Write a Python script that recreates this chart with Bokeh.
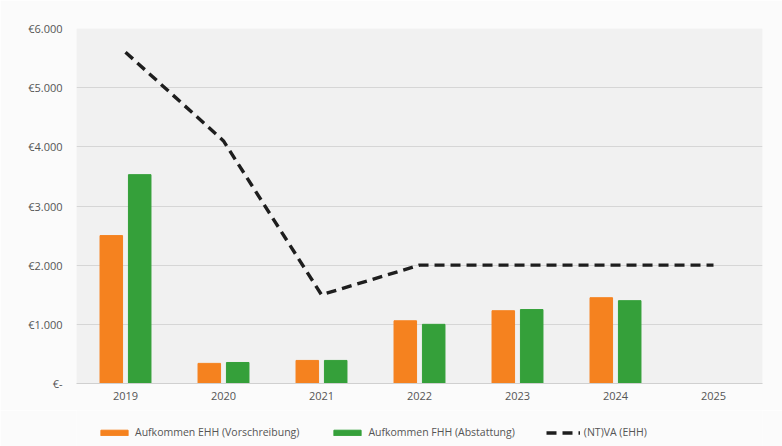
from bokeh.plotting import figure
from bokeh.layouts import column
from bokeh.models import FactorRange, Range1d, FixedTicker, Legend, LegendItem, ColumnDataSource
from bokeh.transform import dodge
from bokeh.embed import file_html
from bokeh.resources import INLINE

years = ["2019", "2020", "2021", "2022", "2023", "2024", "2025"]
bar_years = ["2019", "2020", "2021", "2022", "2023", "2024"]
ehh_vorschreibung = [2500, 340, 390, 1060, 1230, 1450]
fhh_abstattung = [3530, 355, 390, 1000, 1250, 1400]
ntva_ehh = [5600, 4100, 1500, 2000, 2000, 2000, 2000]
y_ticks = [0, 1000, 2000, 3000, 4000, 5000, 6000]
y_tick_labels = ["€-", "€1.000", "€2.000", "€3.000", "€4.000", "€5.000", "€6.000"]
series_names = ["Aufkommen EHH (Vorschreibung)", "Aufkommen FHH (Abstattung)", "(NT)VA (EHH)"]

FONT = "Open Sans"
ORANGE = "#f5821f"
GREEN = "#35a03a"
DARK = "#1e1e1e"
BORDER_BG = "#fbfbfb"

bars = ColumnDataSource(dict(year=bar_years, ehh=ehh_vorschreibung, fhh=fhh_abstattung))
line = ColumnDataSource(dict(year=years, v=ntva_ehh))

p = figure(frame_width=686, frame_height=355, x_range=FactorRange(*years), y_range=Range1d(0, 6000),
           output_backend="svg", toolbar_location=None)
p.min_border_left = 76
p.min_border_right = 20
p.min_border_top = 28
p.min_border_bottom = 27
p.background_fill_color = "#f1f1f1"
p.border_fill_color = BORDER_BG
p.outline_line_color = None

p.vbar(x=dodge("year", -0.145, range=p.x_range), top="ehh", width=0.23, source=bars,
       fill_color=ORANGE, line_color=ORANGE)
p.vbar(x=dodge("year", 0.145, range=p.x_range), top="fhh", width=0.23, source=bars,
       fill_color=GREEN, line_color=GREEN)
p.line(x="year", y="v", source=line, line_color=DARK, line_width=3.4, line_dash="10 6")

p.x_range.range_padding = 0.0
p.xgrid.grid_line_color = None
p.ygrid.grid_line_color = "#d6d6d6"
p.ygrid.grid_line_width = 1

p.yaxis.ticker = FixedTicker(ticks=y_ticks)
p.yaxis.major_label_overrides = {t: l for t, l in zip(y_ticks, y_tick_labels)}
p.yaxis.axis_line_color = None
p.yaxis.major_tick_line_color = None
p.yaxis.minor_tick_line_color = None
p.yaxis.major_tick_out = 0
p.yaxis.major_label_text_font = FONT
p.yaxis.major_label_text_font_size = "11px"
p.yaxis.major_label_text_color = "#555555"
p.yaxis.major_label_standoff = 14

p.xaxis.axis_line_color = "#d0d0d0"
p.xaxis.major_tick_line_color = None
p.xaxis.minor_tick_line_color = None
p.xaxis.major_tick_out = 0
p.xaxis.major_label_text_font = FONT
p.xaxis.major_label_text_font_size = "11px"
p.xaxis.major_label_text_color = "#555555"
p.xaxis.major_label_standoff = 8

# legend strip below the chart (legend-only renderers sit outside the visible range)
lg = figure(width=782, height=36, output_backend="svg", toolbar_location=None,
            x_range=Range1d(0, 1), y_range=Range1d(0, 1),
            x_axis_location=None, y_axis_location=None)
lg.min_border = 0
lg.grid.grid_line_color = None
lg.outline_line_color = None
lg.background_fill_color = BORDER_BG
lg.border_fill_color = BORDER_BG
offscreen = ColumnDataSource(dict(x=[-10, -9], top=[-10, -9]))
d1 = lg.vbar(x="x", top="top", width=0.1, source=offscreen, fill_color=ORANGE, line_color=ORANGE)
d2 = lg.vbar(x="x", top="top", width=0.1, source=offscreen, fill_color=GREEN, line_color=GREEN)
d3 = lg.line(x="x", y="top", source=offscreen, line_color=DARK, line_width=3.4, line_dash="10 6")

legend = Legend(items=[
    LegendItem(label=series_names[0], renderers=[d1]),
    LegendItem(label=series_names[1], renderers=[d2]),
    LegendItem(label=series_names[2], renderers=[d3]),
], orientation="horizontal", location=(21, 7))
legend.label_text_font = FONT
legend.label_text_font_size = "10.5px"
legend.label_text_color = "#555555"
legend.glyph_width = 34
legend.glyph_height = 7
legend.label_height = 14
legend.label_standoff = 4
legend.spacing = 31
legend.padding = 7
legend.margin = 0
legend.border_line_color = None
legend.background_fill_alpha = 0
lg.add_layout(legend, "center")

layout = column(p, lg, spacing=0)
open("out.html", "w").write(file_html(layout, INLINE))
